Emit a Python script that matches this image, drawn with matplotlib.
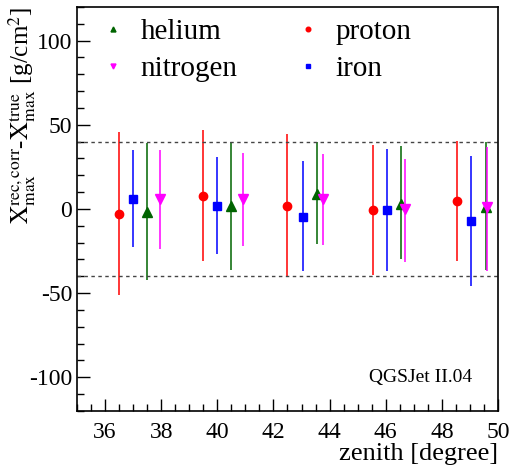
import matplotlib.pyplot as plt
from matplotlib.ticker import MultipleLocator

plt.rcParams['font.family'] = ['Liberation Serif', 'DejaVu Serif']
plt.rcParams['mathtext.fontset'] = 'stix'
plt.rcParams['axes.unicode_minus'] = False

# zenith positions, values and error bar ends (top / bottom) per primary
proton_x = [36.5, 39.5, 42.5, 45.55, 48.55]
proton_y = [-3, 8, 2, -0.4, 5]
proton_hi = [45.5, 47, 44.5, 38, 40.4]
proton_lo = [-51, -31, -40, -39, -30.7]

iron_x = [37.0, 40.0, 43.05, 46.05, 49.05]
iron_y = [6, 2, -4.5, -0.5, -7]
iron_hi = [35, 31, 28.5, 35.6, 31.6]
iron_lo = [-22.6, -26.7, -37, -36.6, -46]

helium_x = [37.5, 40.5, 43.55, 46.55, 49.56]
helium_y = [-2, 1.5, 9, 3, 1]
helium_hi = [39, 40, 40, 37.6, 40]
helium_lo = [-42, -36, -21, -30, -36]

nitrogen_x = [37.95, 40.9, 43.77, 46.7, 49.62]
nitrogen_y = [6, 6, 6, 0, 1]
nitrogen_hi = [35, 33, 32.6, 29.7, 37]
nitrogen_lo = [-24, -22, -21.4, -31.6, -37]

band = 40


def draw_series(ax, x, y, hi, lo, color, marker, label, ms):
    yerr = [[v - l for v, l in zip(y, lo)], [h - v for v, h in zip(y, hi)]]
    ax.errorbar(x, y, yerr=yerr, fmt='none', ecolor=color, elinewidth=1.1, capsize=0)
    ax.plot(x, y, linestyle='none', marker=marker, color=color, markersize=ms, label=label)


fig = plt.figure(figsize=(5.14, 4.67), dpi=100)
ax = fig.add_axes([0.1498, 0.12, 0.8190, 0.865])

draw_series(ax, helium_x, helium_y, helium_hi, helium_lo, '#006400', '^', 'helium', 6.5)
draw_series(ax, nitrogen_x, nitrogen_y, nitrogen_hi, nitrogen_lo, '#ff00ff', 'v', 'nitrogen', 6.5)
draw_series(ax, proton_x, proton_y, proton_hi, proton_lo, '#ff0000', 'o', 'proton', 6)
draw_series(ax, iron_x, iron_y, iron_hi, iron_lo, '#0000ff', 's', 'iron', 6)

ax.axhline(band, color='#444444', linestyle=(0, (2.5, 2.5)), linewidth=1)
ax.axhline(-band, color='#444444', linestyle=(0, (2.5, 2.5)), linewidth=1)

ax.set_xlim(35, 50)
ax.set_ylim(-120, 120)
ax.xaxis.set_major_locator(MultipleLocator(2))
ax.xaxis.set_minor_locator(MultipleLocator(0.5))
ax.yaxis.set_major_locator(MultipleLocator(50))
ax.yaxis.set_minor_locator(MultipleLocator(10))
ax.tick_params(which='both', direction='in', top=False, right=False, labelsize=17)
ax.tick_params(which='major', length=9, width=1)
ax.tick_params(which='minor', length=5, width=1)
ax.tick_params(axis='x', pad=8)
for s in ax.spines.values():
    s.set_linewidth(1.2)

ax.set_xlabel('zenith [degree]', fontsize=19, loc='right', labelpad=0)
ax.set_ylabel(r'$\mathrm{X}_{\mathrm{max}}^{\mathrm{rec,corr}}$-$\mathrm{X}_{\mathrm{max}}^{\mathrm{true}}$ [g/cm$^2$]',
              fontsize=18, loc='top')
ax.yaxis.set_label_coords(-0.092, 1.0)

ax.text(0.815, 0.082, 'QGSJet II.04', transform=ax.transAxes, ha='center', va='center', fontsize=14)

leg = ax.legend(ncol=2, loc='upper left', bbox_to_anchor=(0.023, 1.0), borderaxespad=0,
                frameon=False, fontsize=21, markerscale=0.55, handlelength=1.0,
                handletextpad=0.45, columnspacing=1.9, labelspacing=0.35)

fig.savefig('out.png', dpi=100)
